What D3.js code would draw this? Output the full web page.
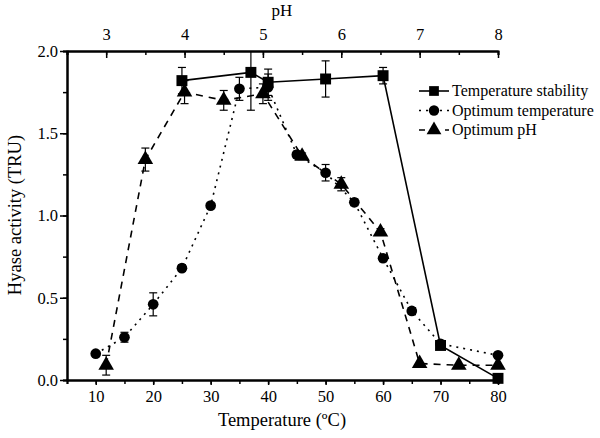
<!DOCTYPE html>
<html><head><meta charset="utf-8">
<script src="https://cdn.jsdelivr.net/npm/d3@7/dist/d3.min.js"></script>
<style>
html,body{margin:0;padding:0;background:#fff;}
text{font-family:"Liberation Serif","Times New Roman",serif;fill:#000;}
</style></head>
<body><svg id="c" width="600" height="438"></svg>
<script>
// Temperature stability (squares, solid)
const stabTemp = [25, 37, 40, 50, 60, 70, 80];
const stabVal  = [1.82, 1.87, 1.81, 1.83, 1.85, 0.21, 0.01];
const stabErr  = [0.08, 0.23, 0.08, 0.11, 0.05, 0, 0];
// Optimum temperature (circles, dotted)
const optTemp    = [10, 15, 20, 25, 30, 35, 40, 45, 50, 55, 60, 65, 70, 80];
const optTempVal = [0.16, 0.26, 0.46, 0.68, 1.06, 1.77, 1.78, 1.37, 1.26, 1.08, 0.74, 0.42, 0.22, 0.15];
const optTempErr = [0, 0.03, 0.07, 0.02, 0, 0.07, 0.08, 0.02, 0.05, 0.02, 0.02, 0.02, 0.02, 0];
// Optimum pH (triangles, dashed)
const optPH    = [3, 3.5, 4, 4.5, 5, 5.5, 6, 6.5, 7, 7.5, 8];
const optPHVal = [0.09, 1.34, 1.75, 1.70, 1.74, 1.36, 1.19, 0.90, 0.10, 0.09, 0.09];
const optPHErr = [0.06, 0.07, 0.07, 0.06, 0.06, 0.02, 0.04, 0.02, 0, 0, 0];

const tempTicks = [10, 20, 30, 40, 50, 60, 70, 80];
const phTicks = [3, 4, 5, 6, 7, 8];
const yTicks = [0, 0.5, 1.0, 1.5, 2.0];
const seriesNames = ["Temperature stability", "Optimum temperature", "Optimum pH"];

const L = 67, R = 498, T = 51, B = 380;
const svg = d3.select("#c");
const x = d3.scaleLinear().domain([5, 80]).range([L, R]);
const xp = d3.scaleLinear().domain([2.5, 8]).range([L, R]);
const y = d3.scaleLinear().domain([0, 2]).range([B, T]);

function styleAxis(g){
  g.selectAll("path.domain").attr("stroke","#000").attr("stroke-width",2);
  g.selectAll(".tick line").attr("stroke","#000").attr("stroke-width",1.5);
  g.selectAll("text").attr("font-size","16.5px").attr("font-family","Liberation Serif");
}
// minor ticks
const gMinB = svg.append("g").attr("transform",`translate(0,${B})`)
  .call(d3.axisBottom(x).tickValues(d3.range(5, 81, 5)).tickSize(4).tickFormat(""));
styleAxis(gMinB);
const gB = svg.append("g").attr("transform",`translate(0,${B})`)
  .call(d3.axisBottom(x).tickValues(tempTicks).tickSize(5).tickPadding(5).tickSizeOuter(0).tickFormat(d3.format("d")));
styleAxis(gB);

const gMinT = svg.append("g").attr("transform",`translate(0,${T})`)
  .call(d3.axisTop(xp).tickValues(d3.range(2.5, 8.01, 0.5)).tickSize(-4).tickFormat(""));
styleAxis(gMinT);
const gT = svg.append("g").attr("transform",`translate(0,${T})`)
  .call(d3.axisTop(xp).tickValues(phTicks).tickSize(-7).tickPadding(11).tickSizeOuter(0).tickFormat(d3.format("d")));
styleAxis(gT);

const gMinL = svg.append("g").attr("transform",`translate(${L},0)`)
  .call(d3.axisLeft(y).tickValues(d3.range(0, 2.01, 0.25)).tickSize(4).tickFormat(""));
styleAxis(gMinL);
const gL = svg.append("g").attr("transform",`translate(${L},0)`)
  .call(d3.axisLeft(y).tickValues(yTicks).tickSize(7).tickPadding(2).tickSizeOuter(0).tickFormat(d3.format(".1f")));
styleAxis(gL);

// titles
svg.append("text").attr("x", 282).attr("y", 426).attr("text-anchor","middle").attr("font-size","18.5px").text("Temperature (ºC)");
svg.append("text").attr("x", 282).attr("y", 16).attr("text-anchor","middle").attr("font-size","17px").text("pH");
svg.append("text").attr("transform","translate(21,215) rotate(-90)").attr("text-anchor","middle").attr("font-size","18.5px").text("Hyase activity (TRU)");

const clip = svg.append("clipPath").attr("id","pc").append("rect").attr("x",L-10).attr("y",T).attr("width",R-L+20).attr("height",B-T+10);
const plot = svg.append("g").attr("clip-path","url(#pc)");

function series(xs, vals, errs, sx, dash, symType, symSize){
  const pts = xs.map((v,i)=>({x:sx(v), y:y(vals[i]), e:errs[i], v:vals[i]}));
  const line = d3.line().x(d=>d.x).y(d=>d.y);
  plot.append("path").attr("d", line(pts)).attr("fill","none").attr("stroke","#000")
    .attr("stroke-width",1.6).attr("stroke-dasharray",dash);
  pts.filter(d=>d.e>0).forEach(d=>{
    const y1 = y(d.v + d.e), y2 = y(d.v - d.e);
    const g = plot.append("g").attr("stroke","#000").attr("stroke-width",1.2);
    g.append("line").attr("x1",d.x).attr("x2",d.x).attr("y1",y1).attr("y2",y2);
    g.append("line").attr("x1",d.x-4).attr("x2",d.x+4).attr("y1",y1).attr("y2",y1);
    g.append("line").attr("x1",d.x-4).attr("x2",d.x+4).attr("y1",y2).attr("y2",y2);
  });
  plot.selectAll(null).data(pts).enter().append("path")
    .attr("transform",d=>`translate(${d.x},${d.y})`)
    .attr("d", d3.symbol().type(symType).size(symSize)).attr("fill","#000");
}
series(optTemp, optTempVal, optTempErr, x, "2,5", d3.symbolCircle, 90);
series(optPH, optPHVal, optPHErr, xp, "7,6", d3.symbolTriangle, 105);
series(stabTemp, stabVal, stabErr, x, null, d3.symbolSquare, 120);

// legend
const leg = svg.append("g");
const legDash = [null, "2,5", "6,7"];
const legSym = [d3.symbolSquare, d3.symbolCircle, d3.symbolTriangle];
const legSize = [95, 85, 95];
seriesNames.forEach((n,i)=>{
  const ly = 91 + i*19.5;
  leg.append("line").attr("x1",419).attr("x2",449).attr("y1",ly).attr("y2",ly)
    .attr("stroke","#000").attr("stroke-width",1.6).attr("stroke-dasharray",legDash[i]);
  leg.append("path").attr("transform",`translate(434,${ly})`).attr("d",d3.symbol().type(legSym[i]).size(legSize[i])).attr("fill","#000");
  leg.append("text").attr("x",452).attr("y",ly+5).attr("font-size","16px").text(n);
});
</script></body></html>
